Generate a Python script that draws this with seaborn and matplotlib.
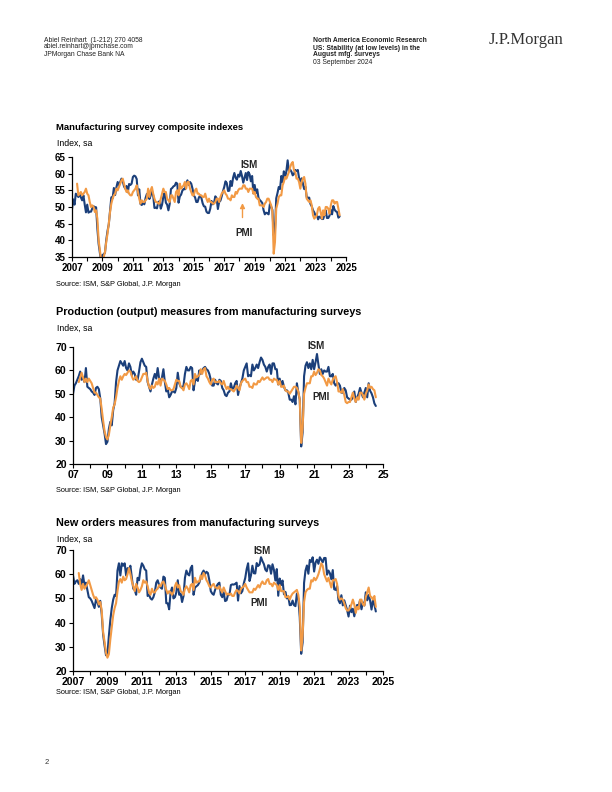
import numpy as np
import pandas as pd
import matplotlib
matplotlib.use("Agg")
import matplotlib.pyplot as plt
import seaborn as sns

# ---- data (monthly) ----
# ISM series start Jan 2007, S&P Global PMI series start May 2007; last point Aug 2024
ism_start = 0
pmi_start = 4

ism_composite = [
    49.3, 52.3, 50.7, 54.0, 53.5, 53.0, 53.8, 52.9, 52.0, 53.5, 50.8, 48.4,
    50.7, 48.3, 48.6, 48.6, 49.6, 50.2, 50.0, 49.9, 43.5, 38.9, 36.2, 33.5,
    35.6, 35.8, 36.3, 40.1, 42.8, 44.8, 48.9, 52.9, 52.6, 55.7, 53.6, 55.9,
    57.5, 56.5, 57.5, 58.5, 57.7, 56.2, 55.5, 56.3, 54.4, 56.9, 56.6, 57.0,
    59.0, 59.4, 59.2, 58.4, 53.5, 55.3, 50.9, 50.6, 51.6, 50.8, 52.7, 53.9,
    54.1, 52.4, 53.4, 54.8, 53.5, 49.7, 49.8, 49.6, 51.5, 51.7, 49.5, 50.7,
    53.1, 54.2, 51.3, 50.7, 49.0, 50.9, 55.4, 55.7, 56.2, 56.4, 57.3, 57.0,
    51.3, 53.2, 53.7, 54.9, 55.4, 55.3, 57.1, 58.0, 56.6, 57.5, 57.0, 55.5,
    53.5, 52.9, 51.5, 51.5, 52.8, 53.5, 52.7, 51.1, 50.2, 50.1, 48.6, 48.2,
    48.2, 49.5, 51.8, 50.8, 51.3, 53.2, 52.6, 49.4, 51.5, 51.9, 53.2, 54.7,
    56.0, 57.7, 57.2, 54.8, 54.9, 57.8, 56.3, 58.8, 60.2, 58.7, 58.2, 59.7,
    59.1, 60.8, 59.3, 57.3, 58.7, 60.2, 58.1, 60.5, 59.8, 57.7, 59.3, 54.1,
    56.6, 54.2, 55.3, 52.8, 52.1, 51.7, 51.2, 49.1, 47.8, 48.3, 48.1, 47.8,
    50.9, 50.1, 49.1, 41.5, 43.1, 52.6, 54.2, 56.0, 55.4, 59.3, 57.5, 60.7,
    58.7, 60.8, 64.0, 60.7, 61.2, 60.6, 59.5, 59.9, 61.1, 60.8, 61.1, 58.7,
    57.6, 58.6, 57.1, 55.4, 56.1, 53.0, 52.8, 52.8, 50.9, 50.2, 49.0, 48.4,
    47.4, 47.7, 46.3, 47.1, 46.9, 46.4, 46.4, 47.6, 49.0, 46.7, 46.7, 47.4,
    49.1, 47.8, 50.3, 49.2, 48.7, 48.5, 46.8, 47.2,
]
pmi_composite = [
    57.0, 53.5, 54.0, 54.5, 53.5, 54.0, 54.5, 55.5,
    54.0, 53.5, 51.5, 50.0, 50.5, 50.0, 48.5, 49.0, 46.5, 40.0, 37.0, 34.0,
    33.5, 35.0, 36.5, 39.5, 42.0, 45.0, 48.5, 51.0, 52.5, 53.5, 54.0, 55.5,
    55.0, 56.0, 57.0, 58.0, 58.5, 57.0, 55.5, 54.5, 55.0, 54.0, 53.5, 53.5,
    54.5, 55.0, 55.5, 56.5, 54.5, 52.5, 51.0, 52.0, 51.5, 51.5, 52.0, 52.5,
    55.5, 53.0, 55.0, 56.0, 54.0, 52.5, 51.5, 51.5, 51.0, 51.0, 52.5, 54.0,
    55.5, 54.5, 54.5, 52.5, 52.0, 51.5, 53.5, 53.5, 52.5, 51.5, 54.5, 55.0,
    53.5, 57.0, 55.5, 56.0, 56.5, 57.5, 55.5, 57.5, 57.5, 55.5, 54.5, 53.5,
    53.5, 55.0, 55.5, 54.0, 54.0, 53.5, 53.5, 53.0, 53.0, 54.0, 52.5, 51.5,
    52.5, 51.5, 51.5, 51.0, 51.0, 51.5, 52.5, 52.5, 51.5, 53.0, 54.0, 54.5,
    55.0, 54.0, 53.5, 52.5, 52.5, 52.0, 53.5, 53.0, 53.0, 54.5, 54.0, 55.0,
    55.5, 55.5, 55.5, 56.5, 56.5, 55.5, 55.5, 54.5, 55.5, 55.5, 55.5, 54.0,
    54.5, 53.0, 52.5, 52.5, 50.5, 50.5, 50.5, 50.0, 51.0, 51.5, 52.5, 52.5,
    51.5, 50.5, 48.5, 36.0, 39.5, 49.5, 51.0, 53.0, 53.5, 53.5, 56.5, 57.5,
    59.0, 58.5, 59.5, 60.5, 62.0, 63.0, 63.5, 61.0, 60.5, 58.5, 58.5, 57.5,
    55.5, 57.5, 58.5, 59.0, 57.0, 52.5, 52.0, 51.5, 52.0, 50.5, 47.5, 46.5,
    47.0, 47.5, 49.5, 50.0, 48.5, 46.5, 49.0, 47.5, 50.0, 50.0, 49.5, 48.0,
    50.5, 52.0, 52.0, 51.0, 51.5, 51.5, 49.5, 47.5,
]

ism_production = [
    50.0, 53.5, 54.5, 56.0, 57.5, 59.5, 56.0, 57.0, 55.0, 61.0, 53.0, 52.5,
    52.0, 51.0, 50.5, 49.5, 52.5, 53.0, 52.0, 48.0, 40.0, 36.5, 33.0, 28.5,
    29.5, 35.0, 38.0, 36.5, 43.0, 46.0, 55.0, 60.0, 62.0, 64.0, 63.0, 62.0,
    64.0, 61.0, 60.0, 63.0, 61.5, 58.0, 59.5, 58.5, 56.0, 56.0, 59.5, 63.5,
    65.0, 63.5, 62.0, 61.5, 55.0, 53.0, 51.0, 54.0, 56.5, 58.5, 56.5, 61.0,
    56.5, 55.0, 57.0, 60.5, 55.0, 51.0, 52.0, 48.5, 49.5, 51.0, 51.0, 50.5,
    52.5, 59.0, 54.5, 53.0, 52.5, 53.5, 58.5, 61.5, 60.0, 60.0, 61.5, 61.0,
    51.5, 55.5, 56.5, 55.5, 60.0, 58.5, 60.0, 61.0, 61.5, 60.5, 60.0, 58.5,
    56.0, 53.5, 53.5, 56.0, 54.5, 54.0, 56.0, 55.5, 52.5, 51.5, 49.5, 49.0,
    50.5, 51.0, 54.5, 52.0, 52.5, 54.5, 55.5, 49.5, 52.5, 54.5, 56.5, 60.0,
    61.5, 63.0, 57.5, 58.0, 57.5, 62.5, 60.0, 61.0, 62.5, 61.0, 63.5, 65.5,
    64.5, 62.5, 61.5, 59.5, 61.5, 62.5, 58.5, 63.0, 63.0, 60.5, 60.5, 54.0,
    56.5, 53.5, 55.5, 53.0, 51.5, 51.5, 50.5, 47.5, 47.5, 46.5, 49.0, 45.5,
    54.5, 50.5, 47.5, 27.5, 33.5, 57.5, 62.0, 63.5, 61.0, 63.0, 60.5, 64.5,
    60.5, 63.5, 67.0, 62.5, 58.5, 60.5, 58.5, 60.0, 59.5, 59.5, 61.5, 57.5,
    57.5, 58.5, 54.5, 53.5, 54.5, 54.5, 53.5, 50.5, 50.5, 52.5, 51.5, 48.5,
    48.0, 47.5, 47.5, 48.5, 51.0, 46.5, 48.5, 50.0, 52.5, 50.5, 48.5, 50.5,
    52.5, 48.5, 54.5, 51.3, 50.2, 48.5, 45.9, 44.8,
]
pmi_production = [
    55.0, 57.0, 59.0, 57.0, 55.0, 56.5, 55.0, 56.5,
    55.5, 54.5, 52.5, 50.5, 50.5, 49.5, 48.5, 48.0, 43.5, 38.5, 34.0, 31.5,
    30.5, 32.5, 36.5, 40.0, 44.0, 45.5, 48.5, 52.5, 55.5, 57.5, 56.0, 57.5,
    58.5, 58.0, 59.0, 60.0, 59.5, 57.5, 56.0, 56.5, 57.5, 55.5, 55.0, 55.5,
    57.0, 58.5, 58.5, 59.0, 55.5, 53.0, 52.0, 53.5, 52.5, 53.0, 55.0, 54.0,
    56.5, 53.5, 56.5, 56.0, 55.5, 54.0, 52.0, 52.5, 51.5, 51.5, 52.0, 54.0,
    56.0, 55.5, 55.5, 53.0, 52.5, 51.5, 54.0, 54.5, 53.5, 52.0, 55.5, 56.0,
    54.0, 58.5, 57.0, 57.5, 58.0, 60.5, 58.5, 60.5, 61.0, 57.5, 56.5, 55.0,
    54.0, 56.0, 56.5, 55.0, 55.0, 55.0, 55.5, 54.5, 54.0, 55.5, 53.5, 52.0,
    53.0, 52.0, 52.0, 51.5, 51.0, 52.0, 53.5, 52.5, 51.5, 54.5, 55.5, 56.0,
    56.5, 55.0, 55.0, 53.0, 53.0, 52.5, 54.5, 54.0, 54.0, 55.5, 55.0, 56.0,
    57.0, 56.0, 56.5, 57.0, 57.0, 56.0, 56.0, 55.0, 56.5, 56.0, 56.0, 54.0,
    55.5, 53.0, 53.0, 53.5, 51.5, 51.0, 51.0, 50.0, 51.0, 52.0, 53.0, 53.0,
    52.5, 51.0, 47.5, 29.0, 35.5, 50.0, 52.5, 54.5, 54.5, 54.5, 57.5, 57.5,
    59.5, 58.0, 59.0, 60.5, 60.0, 58.0, 57.5, 56.5, 55.0, 53.5, 56.5, 55.0,
    54.0, 56.0, 57.0, 57.5, 55.0, 51.0, 51.0, 50.5, 52.0, 49.5, 46.5, 46.0,
    46.5, 46.5, 48.5, 50.5, 48.0, 46.5, 48.5, 47.5, 50.5, 50.5, 49.5, 47.5,
    50.0, 51.5, 54.0, 52.5, 53.0, 52.0, 51.5, 48.5,
]

ism_new_orders = [
    59.5, 56.0, 57.0, 57.5, 56.0, 58.0, 55.5, 59.5, 55.5, 56.5, 53.5, 50.5,
    50.0, 49.0, 47.5, 46.0, 49.5, 48.5, 46.5, 49.0, 43.5, 35.0, 30.5, 26.5,
    27.0, 34.5, 41.0, 46.0, 49.5, 51.5, 51.0, 61.5, 64.5, 59.5, 64.5, 63.5,
    64.5, 59.5, 62.5, 62.0, 63.5, 58.5, 54.0, 53.5, 51.5, 58.5, 57.5, 62.0,
    64.5, 63.5, 62.0, 61.5, 51.0, 51.5, 50.0, 49.5, 50.5, 52.5, 56.5, 57.5,
    55.5, 54.5, 54.0, 59.0, 58.5, 48.0, 48.0, 45.5, 52.5, 54.5, 50.0, 50.5,
    52.5, 57.5, 51.5, 52.0, 48.5, 51.0, 58.5, 61.5, 60.0, 59.5, 62.5, 63.5,
    51.5, 54.5, 55.0, 55.5, 56.5, 58.5, 60.5, 61.5, 60.0, 61.0, 60.5, 57.5,
    53.0, 52.0, 51.5, 53.5, 55.0, 56.0, 56.5, 51.5, 50.5, 52.5, 48.9, 49.2,
    51.5, 51.5, 55.5, 55.8, 55.7, 56.0, 56.5, 49.1, 55.1, 52.1, 53.0, 56.2,
    58.4, 62.1, 64.5, 57.2, 59.5, 63.5, 60.4, 60.3, 64.6, 63.4, 64.0, 67.0,
    65.4, 64.2, 61.9, 61.2, 63.7, 63.5, 60.2, 64.1, 61.8, 57.4, 62.1, 51.1,
    58.2, 55.5, 57.4, 51.7, 52.7, 50.0, 50.8, 47.2, 47.3, 49.1, 47.2, 46.8,
    52.0, 49.8, 42.2, 27.1, 31.8, 56.4, 61.5, 63.6, 60.2, 65.9, 65.1, 67.0,
    61.1, 64.8, 66.0, 64.3, 67.0, 66.0, 64.9, 66.7, 66.7, 59.8, 61.5, 60.4,
    57.9, 61.7, 53.8, 53.5, 55.1, 49.2, 48.0, 51.3, 47.1, 49.2, 47.2, 45.2,
    42.5, 47.0, 44.3, 45.7, 42.6, 45.6, 47.3, 46.8, 49.2, 45.5, 48.3, 47.1,
    52.5, 49.2, 51.4, 49.1, 45.4, 49.3, 47.4, 44.6,
]
pmi_new_orders = [
    60.5, 56.0, 53.5, 56.0, 54.0, 55.0, 56.0, 57.5,
    55.5, 53.5, 51.5, 50.0, 50.5, 49.5, 47.5, 48.5, 45.0, 36.0, 32.0, 27.5,
    25.5, 27.0, 33.0, 38.0, 43.0, 46.0, 48.0, 53.0, 57.0, 58.0, 56.5, 59.0,
    57.5, 58.0, 60.0, 62.5, 60.0, 57.0, 55.0, 53.0, 56.0, 54.5, 52.5, 53.5,
    55.0, 57.5, 56.5, 57.0, 55.0, 52.5, 51.5, 54.0, 52.5, 52.5, 53.5, 54.0,
    55.5, 55.0, 56.5, 57.0, 55.5, 53.5, 52.0, 53.0, 52.5, 51.5, 52.5, 55.0,
    56.5, 54.5, 55.5, 53.0, 52.5, 51.5, 54.0, 55.0, 54.0, 52.5, 55.5, 56.0,
    53.5, 58.5, 56.5, 57.0, 57.0, 59.5, 58.0, 60.5, 59.5, 57.5, 56.5, 55.0,
    54.5, 55.5, 56.0, 54.5, 54.5, 54.0, 55.0, 53.5, 52.5, 54.5, 53.0, 51.5,
    52.0, 51.5, 52.0, 51.0, 51.0, 52.5, 53.5, 53.0, 52.0, 54.0, 54.5, 55.0,
    56.0, 54.5, 53.5, 52.5, 52.5, 52.5, 54.0, 53.5, 54.5, 55.5, 54.5, 56.0,
    57.0, 56.0, 56.0, 57.5, 58.0, 56.0, 56.0, 55.0, 56.5, 56.0, 55.5, 53.5,
    55.5, 53.0, 53.0, 53.0, 50.5, 50.5, 51.0, 49.5, 51.0, 52.0, 52.5, 53.0,
    53.5, 51.5, 46.5, 28.5, 34.5, 48.5, 52.5, 53.5, 54.0, 54.0, 57.5, 57.0,
    58.5, 57.5, 58.5, 60.0, 62.0, 64.5, 63.5, 60.0, 58.5, 57.0, 58.5, 56.5,
    54.5, 57.5, 57.5, 58.0, 56.0, 51.0, 49.5, 50.0, 49.5, 48.0, 46.0, 45.0,
    45.0, 46.0, 47.5, 49.5, 47.5, 44.0, 46.5, 45.5, 49.5, 49.5, 47.5, 47.0,
    50.5, 52.5, 54.5, 51.0, 50.5, 49.5, 51.0, 46.5,
]

series_names = ["ISM", "PMI"]
colors = {"ISM": "#1b3f7a", "PMI": "#f29a45"}


def to_frame(ism, pmi):
    rows = []
    for name, vals, start in [("ISM", ism, ism_start), ("PMI", pmi, pmi_start)]:
        yrs = 2007 + (start + np.arange(len(vals))) / 12.0
        rows.append(pd.DataFrame({"year": yrs, "value": vals, "series": name}))
    return pd.concat(rows, ignore_index=True)


sns.set_theme(style="ticks")
plt.rcParams["font.family"] = ["Liberation Sans", "DejaVu Sans"]

fig = plt.figure(figsize=(6.12, 7.92), dpi=100)

# ---- page header ----
hdr = dict(fontsize=4.9, color="#222222", va="center")
fig.text(44 / 612, 1 - 40 / 792, "Abiel Reinhart  (1-212) 270 4058", **hdr)
fig.text(44 / 612, 1 - 47 / 792, "abiel.reinhart@jpmchase.com", **hdr)
fig.text(44 / 612, 1 - 54 / 792, "JPMorgan Chase Bank NA", **hdr)
fig.text(313 / 612, 1 - 40 / 792, "North America Economic Research", fontweight="bold", **hdr)
fig.text(313 / 612, 1 - 48 / 792, "US: Stability (at low levels) in the", fontweight="bold", **hdr)
fig.text(313 / 612, 1 - 55 / 792, "August mfg. surveys", fontweight="bold", **hdr)
fig.text(313 / 612, 1 - 62 / 792, "03 September 2024", **hdr)
fig.text(489 / 612, 1 - 40 / 792, "J.P.Morgan", fontsize=12, family=["Liberation Serif", "DejaVu Serif"],
         color="#333333", va="center")
fig.text(45 / 612, 1 - 763 / 792, "2", fontsize=5.5, color="#333333", va="center")

panels = [
    dict(title="Manufacturing survey composite indexes", tsize=6.8, lsize=7.0,
         ism=ism_composite, pmi=pmi_composite,
         rect=(72, 157, 346, 257), ylim=(35, 65), yticks=range(35, 66, 5),
         xlabels=[str(y) for y in range(2007, 2026, 2)],
         title_y=128, unit_y=143, source_y=284,
         ism_lab=(2018.6, 62.6), pmi_lab=(2018.3, 42.3), arrow=True),
    dict(title="Production (output) measures from manufacturing surveys", tsize=7.8, lsize=7.6,
         ism=ism_production, pmi=pmi_production,
         rect=(73, 347, 383, 464), ylim=(20, 70), yticks=range(20, 71, 10),
         xlabels=["%02d" % (y % 100) for y in range(2007, 2026, 2)],
         title_y=312, unit_y=328, source_y=490,
         ism_lab=(2021.1, 70.5), pmi_lab=(2021.4, 48.5), arrow=False),
    dict(title="New orders measures from manufacturing surveys", tsize=7.8, lsize=7.6,
         ism=ism_new_orders, pmi=pmi_new_orders,
         rect=(73, 550, 383, 671), ylim=(20, 70), yticks=range(20, 71, 10),
         xlabels=[str(y) for y in range(2007, 2026, 2)],
         title_y=523, unit_y=539, source_y=693,
         ism_lab=(2018.0, 69.5), pmi_lab=(2017.8, 48.0), arrow=False),
]

for p in panels:
    l, t, r, b = p["rect"]
    ax = fig.add_axes([l / 612, 1 - b / 792, (r - l) / 612, (b - t) / 792])
    df = to_frame(p["ism"], p["pmi"])
    sns.lineplot(data=df, x="year", y="value", hue="series", hue_order=series_names,
                 palette=colors, linewidth=1.5, legend=False, ax=ax, clip_on=True)
    ax.set_xlim(2007, 2025)
    ax.set_ylim(*p["ylim"])
    ax.set_xticks(range(2007, 2026, 2))
    ax.set_xticklabels(p["xlabels"])
    ax.set_xticks(range(2007, 2026), minor=True)
    ax.set_yticks(list(p["yticks"]))
    ax.set_xlabel("")
    ax.set_ylabel("")
    sns.despine(ax=ax)
    for s in ["left", "bottom"]:
        ax.spines[s].set_linewidth(0.9)
        ax.spines[s].set_color("black")
    ax.tick_params(axis="both", which="both", direction="out", length=3, width=0.8,
                   labelsize=p["lsize"], pad=1.5, colors="black")
    for lab in ax.get_xticklabels() + ax.get_yticklabels():
        lab.set_fontweight("bold")

    fig.text(56 / 612, 1 - p["title_y"] / 792, p["title"], fontsize=p["tsize"],
             fontweight="bold", va="center", color="black")
    fig.text(57 / 612, 1 - p["unit_y"] / 792, "Index, sa", fontsize=6.3, va="center", color="black")
    fig.text(56 / 612, 1 - p["source_y"] / 792, "Source: ISM, S&P Global, J.P. Morgan",
             fontsize=5.3, va="center", color="black")

    ax.text(*p["ism_lab"], "ISM", fontsize=7, fontweight="bold", ha="center", va="center")
    ax.text(*p["pmi_lab"], "PMI", fontsize=7, fontweight="bold", ha="center", va="center")
    if p["arrow"]:
        ax.annotate("", xy=(2018.2, 52.0), xytext=(2018.2, 46.0),
                    arrowprops=dict(arrowstyle="-|>", color=colors["PMI"], lw=1.0,
                                    mutation_scale=7))

fig.savefig("out.png", dpi=100)
